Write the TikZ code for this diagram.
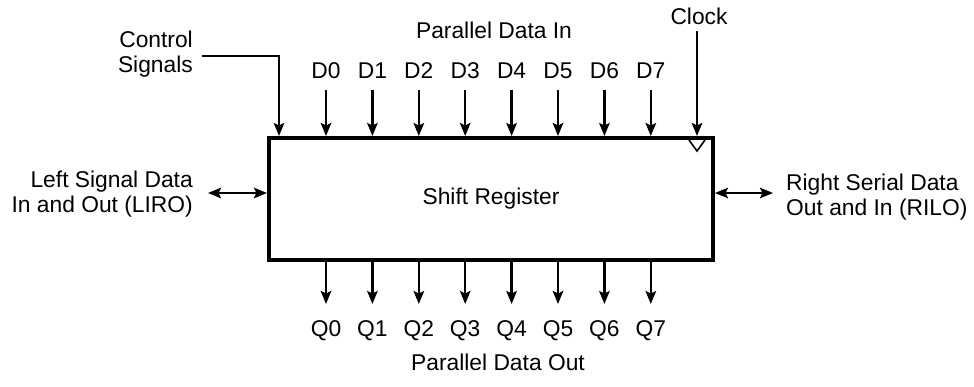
\documentclass[tikz,border=0pt]{standalone}
\usepackage{fontspec}
\setmainfont{Liberation Sans}
\usetikzlibrary{arrows.meta}
\begin{document}
\begin{tikzpicture}[x=1pt,y=-1pt,
  lbl/.style={inner sep=0pt,font=\fontsize{22.8}{25}\selectfont},
  tip/.tip={Stealth[length=13pt,width=10.5pt,inset=2.5pt]},
  sig/.style={line width=2.3pt,-tip},
  bus/.style={line width=2.3pt,tip-tip},
  regbox/.style={draw,line width=4pt,minimum width=444pt,minimum height=122pt,inner sep=0pt}]
\useasboundingbox (0,0) rectangle (974,386);

% register body
\node[regbox,lbl] (reg) at (491,199) {Shift Register};

% headings
\node[lbl] (pin) at (494,30) {Parallel Data In};
\node[lbl] (pout) at (498,362) {Parallel Data Out};

% parallel inputs and outputs
\foreach \i in {0,...,7}{
  \node[lbl] (d\i) at ({326+46.4*\i},71) {D\i};
  \coordinate (ds\i) at ({326+46.4*\i},90);
  \draw[sig] (ds\i) -- (ds\i |- reg.north);
  \node[lbl] (q\i) at ({326+46.4*\i},331) {Q\i};
  \coordinate (qe\i) at ({326+46.4*\i},304);
  \draw[sig] (qe\i |- reg.south) -- (qe\i);
}

% control signals
\node[lbl,align=right,anchor=east] (ctl) at (193,54) {Control\\Signals};
\coordinate (ctlstart) at (202,56);
\coordinate (ctlbend) at (279,56);
\draw[sig] (ctlstart) -- (ctlbend) -- (ctlbend |- reg.north);

% clock input and its edge marker
\node[lbl] (clk) at (699,16) {Clock};
\coordinate (clks) at (697,31);
\draw[sig] (clks) -- (clks |- reg.north);
\draw[line width=1.6pt] (689,140) -- (697,151) -- (705,140);

% serial ports
\node[lbl,align=right,anchor=east] (liro) at (193,194) {Left Signal Data\\In and Out (LIRO)};
\coordinate (lend) at (208,193);
\draw[bus] (lend) -- (lend -| reg.west);
\node[lbl,align=left,anchor=west] (rilo) at (786,197) {Right Serial Data\\Out and In (RILO)};
\coordinate (rend) at (773,193);
\draw[bus] (rend -| reg.east) -- (rend);
\end{tikzpicture}
\end{document}
